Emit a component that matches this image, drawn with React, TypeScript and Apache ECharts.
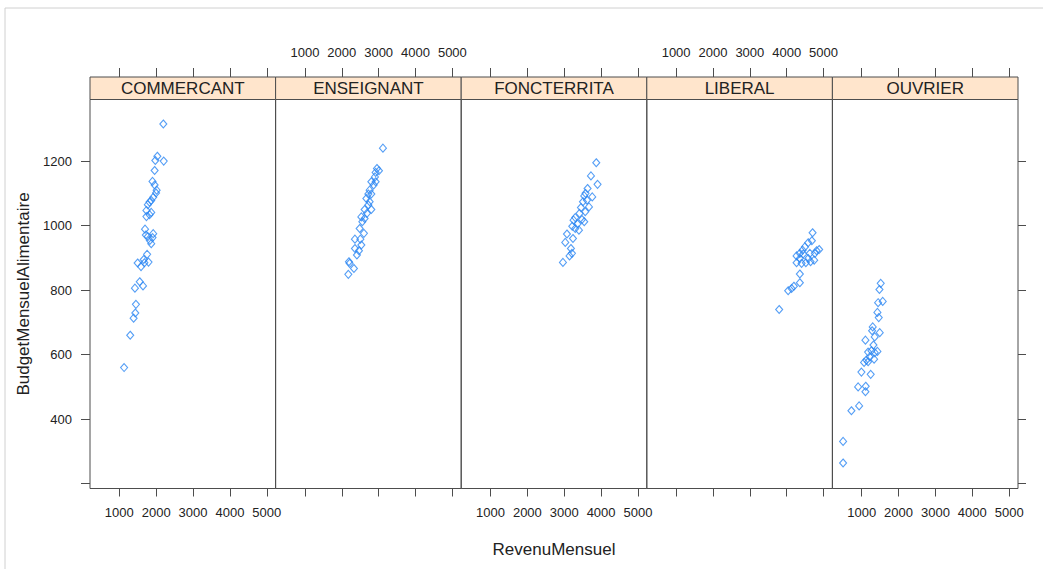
import React, { useEffect, useRef } from "react";
import * as echarts from "echarts";

const categories = ["COMMERCANT", "ENSEIGNANT", "FONCTERRITA", "LIBERAL", "OUVRIER"];

const commercantRevenu = [2194, 2032, 1977, 2205, 1958, 1901, 1958, 2013, 1996, 1920, 1866, 1820, 1774, 1736, 1866, 1820, 1736, 1698, 1719, 1774, 1920, 1901, 1828, 1866, 1755, 1662, 1497, 1589, 1793, 1681, 1554, 1643, 1424, 1451, 1434, 1388, 1296, 1130];
const commercantBudget = [1315, 1215, 1202, 1200, 1171, 1137, 1126, 1110, 1101, 1088, 1078, 1073, 1065, 1047, 1041, 1034, 1028, 989, 971, 966, 975, 963, 954, 944, 911, 895, 884, 873, 887, 885, 826, 813, 806, 756, 729, 713, 660, 560];

const enseignantRevenu = [3117, 2954, 3009, 2919, 2900, 2802, 2919, 2865, 2756, 2721, 2802, 2667, 2756, 2721, 2620, 2802, 2683, 2531, 2620, 2558, 2485, 2601, 2357, 2504, 2531, 2357, 2466, 2411, 2194, 2213, 2330, 2178];
const enseignantBudget = [1240, 1177, 1170, 1165, 1151, 1136, 1136, 1126, 1110, 1098, 1098, 1084, 1074, 1064, 1050, 1050, 1038, 1027, 1022, 1012, 991, 976, 958, 958, 940, 929, 922, 909, 888, 883, 867, 849];

const foncterritaRevenu = [3869, 3725, 3904, 3633, 3578, 3543, 3760, 3617, 3508, 3671, 3454, 3570, 3416, 3299, 3481, 3253, 3361, 3543, 3218, 3299, 3399, 3074, 3237, 3028, 3182, 3209, 3144, 2965];
const foncterritaBudget = [1195, 1154, 1128, 1115, 1100, 1092, 1089, 1079, 1074, 1058, 1056, 1043, 1038, 1025, 1019, 1017, 1005, 1012, 998, 991, 986, 974, 960, 948, 929, 914, 906, 886];

const liberalRevenu = [4702, 4683, 4583, 4493, 4431, 4881, 4811, 4357, 4447, 4629, 4765, 4583, 4268, 4357, 4746, 4268, 4404, 4520, 4648, 4357, 4357, 4195, 4132, 4040, 3796];
const liberalBudget = [978, 953, 947, 934, 924, 926, 922, 914, 912, 914, 914, 898, 906, 898, 893, 885, 883, 885, 888, 850, 823, 812, 805, 798, 740];

const ouvrierRevenu = [1516, 1481, 1445, 1570, 1426, 1462, 1299, 1282, 1489, 1353, 1101, 1318, 1263, 1174, 1426, 1353, 1217, 1128, 1065, 1174, 1336, 992, 1244, 903, 1109, 1101, 930, 721, 495, 495];
const ouvrierBudget = [821, 802, 761, 765, 731, 715, 686, 674, 668, 655, 645, 630, 612, 608, 610, 606, 593, 583, 576, 578, 586, 546, 539, 500, 502, 485, 441, 426, 331, 264];

const xTicks = [1000, 2000, 3000, 4000, 5000];
const yTicks = [200, 400, 600, 800, 1000, 1200];
const yLabelTicks = [400, 600, 800, 1000, 1200];

const revenus = [commercantRevenu, enseignantRevenu, foncterritaRevenu, liberalRevenu, ouvrierRevenu];
const budgets = [commercantBudget, enseignantBudget, foncterritaBudget, liberalBudget, ouvrierBudget];

const X_MIN = 205;
const X_MAX = 5240;
const Y_MIN = 185;
const Y_MAX = 1391;

const FONT = "'Liberation Sans', Arial, sans-serif";
const LINE = "#4d4d4d";
const TXT = "#222";

export default function App() {
  const ref = useRef<HTMLDivElement>(null);
  useEffect(() => {
    if (!ref.current) return;
    const chart = echarts.init(ref.current, null, { renderer: "svg" });
    const left0 = 90;
    const pw = (1018 - 90) / 5;
    const top = 99.5;
    const height = 488.5 - 99.5;
    const stripTop = 77;
    const fmt = (v: number) => String(v);

    const grids: any[] = [];
    const xAxes: any[] = [];
    const yAxes: any[] = [];
    const series: any[] = [];
    const graphics: any[] = [];

    graphics.push({
      type: "rect",
      shape: { x: 5, y: 8, width: 1100, height: 600 },
      style: { fill: "none", stroke: "#d0d0d0", lineWidth: 1 },
      silent: true,
      z: -10,
    });

    categories.forEach((cat, i) => {
      const left = left0 + i * pw;
      grids.push({
        left,
        top,
        width: pw,
        height,
        show: true,
        borderColor: LINE,
        borderWidth: 1,
        backgroundColor: "transparent",
      });
      const common = {
        type: "value",
        gridIndex: i,
        min: X_MIN,
        max: X_MAX,
        splitLine: { show: false },
        axisLine: { show: false },
      };
      const xLabel = (show: boolean, margin: number) => ({
        show,
        customValues: xTicks,
        interval: 0,
        hideOverlap: false,
        showMinLabel: true,
        showMaxLabel: true,
        formatter: fmt,
        margin,
        fontFamily: FONT,
        fontSize: 13,
        color: TXT,
      });
      xAxes.push({
        ...common,
        position: "bottom",
        axisTick: { show: true, inside: false, length: 8, customValues: xTicks, lineStyle: { color: LINE } },
        axisLabel: xLabel(i % 2 === 0, 17),
      });
      xAxes.push({
        ...common,
        position: "top",
        offset: top - stripTop,
        axisTick: { show: true, inside: false, length: 9, customValues: xTicks, lineStyle: { color: LINE } },
        axisLabel: xLabel(i % 2 === 1, 18),
      });
      const yCommon: any = {
        type: "value",
        gridIndex: i,
        min: Y_MIN,
        max: Y_MAX,
        splitLine: { show: false },
        axisLine: { show: false },
      };
      if (i === 0) {
        yAxes.push({
          ...yCommon,
          position: "left",
          name: "BudgetMensuelAlimentaire",
          nameLocation: "middle",
          nameGap: 58,
          nameRotate: 90,
          nameTextStyle: { fontFamily: FONT, fontSize: 17, color: TXT },
          axisTick: { show: true, inside: false, length: 9, customValues: yTicks, lineStyle: { color: LINE } },
          axisLabel: {
            show: true,
            customValues: yLabelTicks,
            interval: 0,
            hideOverlap: false,
            formatter: fmt,
            margin: 18,
            fontFamily: FONT,
            fontSize: 13,
            color: TXT,
          },
        });
      } else if (i === 4) {
        yAxes.push({
          ...yCommon,
          position: "right",
          axisTick: { show: true, inside: false, length: 8, customValues: yTicks, lineStyle: { color: LINE } },
          axisLabel: { show: false },
        });
      } else {
        yAxes.push({ ...yCommon, axisTick: { show: false }, axisLabel: { show: false } });
      }
      series.push({
        type: "scatter",
        name: cat,
        xAxisIndex: 2 * i,
        yAxisIndex: i,
        symbol: "diamond",
        symbolSize: [7, 8],
        itemStyle: { color: "rgba(255,255,255,0)", borderColor: "#2a86f2", borderWidth: 1.1 },
        data: revenus[i].map((x, k) => [x, budgets[i][k]]),
      });
      graphics.push({
        type: "rect",
        shape: { x: left, y: stripTop, width: pw, height: top - stripTop },
        style: { fill: "#ffe5cc", stroke: LINE, lineWidth: 1 },
        silent: true,
      });
      graphics.push({
        type: "text",
        x: left + pw / 2,
        y: (stripTop + top) / 2 + 0.5,
        style: {
          text: cat,
          fontFamily: FONT,
          fontSize: 17,
          fill: TXT,
          textAlign: "center",
          textVerticalAlign: "middle",
        },
        silent: true,
      });
    });

    graphics.push({
      type: "text",
      x: left0 + (5 * pw) / 2,
      y: 549,
      style: {
        text: "RevenuMensuel",
        fontFamily: FONT,
        fontSize: 17,
        fill: TXT,
        textAlign: "center",
        textVerticalAlign: "middle",
      },
      silent: true,
    });

    chart.setOption({
      animation: false,
      backgroundColor: "#ffffff",
      grid: grids,
      xAxis: xAxes,
      yAxis: yAxes,
      series,
      graphic: graphics,
    });
    return () => chart.dispose();
  }, []);
  return <div ref={ref} style={{ position: "absolute", left: 0, top: 0, width: 1043, height: 569 }} />;
}
